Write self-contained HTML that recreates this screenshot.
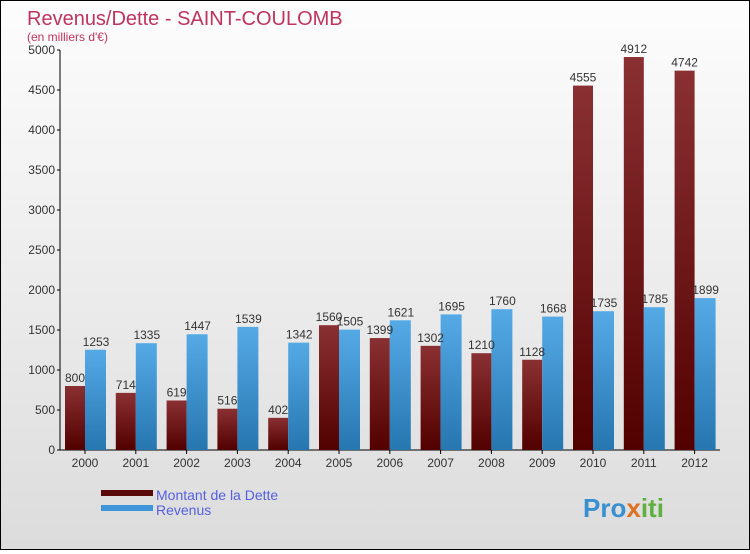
<!DOCTYPE html>
<html><head><meta charset="utf-8"><style>
body{margin:0;width:750px;height:550px;overflow:hidden}
#wrap{position:relative;width:748px;height:548px;border:1px solid #000;background:linear-gradient(#fdfdfd,#dcdcdc);font-family:"Liberation Sans",sans-serif}
text{font-family:"Liberation Sans",sans-serif}
</style></head><body>
<div id="wrap">
<svg id="chart" width="748" height="548">
<defs>
<linearGradient id="gd" x1="0" y1="0" x2="0" y2="1"><stop offset="0" stop-color="#8a3033"/><stop offset="1" stop-color="#520000"/></linearGradient>
<linearGradient id="gr" x1="0" y1="0" x2="0" y2="1"><stop offset="0" stop-color="#55aae6"/><stop offset="1" stop-color="#2676b0"/></linearGradient>
</defs>
<text x="26" y="24" font-size="20" fill="#c0335e">Revenus/Dette - SAINT-COULOMB</text>
<text x="26" y="40" font-size="12" fill="#c0335e">(en milliers d'€)</text>
<g id="axes"></g><g id="bars"></g>
<rect x="100" y="489" width="52" height="6" fill="#5a0a0a"/>
<rect x="100" y="504" width="52" height="6" fill="#3d94d8"/>
<text x="155" y="499" font-size="14" fill="#5560e0">Montant de la Dette</text>
<text x="155" y="514" font-size="14" fill="#5560e0">Revenus</text>
<text x="582" y="516" font-size="26" font-weight="bold" fill="#3a8fd0">Pro<tspan fill="#e07020">x</tspan><tspan fill="#60b040">iti</tspan></text>
</svg></div>
<script>
const years=["2000","2001","2002","2003","2004","2005","2006","2007","2008","2009","2010","2011","2012"];
const dette=[800,714,619,516,402,1560,1399,1302,1210,1128,4555,4912,4742];
const revenus=[1253,1335,1447,1539,1342,1505,1621,1695,1760,1668,1735,1785,1899];
const yTicks=[0,500,1000,1500,2000,2500,3000,3500,4000,4500,5000];
const NS="http://www.w3.org/2000/svg";
const y=v=>449-v*0.08;
const x=i=>84+i*50.8;
function mk(t,a,p){const e=document.createElementNS(NS,t);for(const k in a)e.setAttribute(k,a[k]);p.appendChild(e);return e;}
const ax=document.getElementById('axes'),bg=document.getElementById('bars');
const yl=mk('line',{x1:59,y1:49,x2:59,y2:449,stroke:'#000'},ax);


const xl=mk('line',{x1:59,y1:449,x2:719,y2:449,stroke:'#000'},ax);


yTicks.forEach(v=>{
 mk('line',{x1:56,y1:y(v),x2:59,y2:y(v),stroke:'#000'},ax);
 const t=mk('text',{x:54,y:y(v)+4,'font-size':12,'text-anchor':'end',fill:'#333'},ax);t.textContent=v;
 
 
});
years.forEach((yr,i)=>{
 const cx=x(i);
 mk('line',{x1:cx,y1:449,x2:cx,y2:453,stroke:'#000'},ax);
 const t=mk('text',{x:cx,y:466,'font-size':12,'text-anchor':'middle',fill:'#333'},ax);t.textContent=yr;
 
 
 const b1=mk('rect',{x:cx-20,y:y(dette[i]),width:20,height:449-y(dette[i]),fill:'url(#gd)'},bg);
 
 
 const b2=mk('rect',{x:cx,y:y(revenus[i]),width:21,height:449-y(revenus[i]),fill:'url(#gr)'},bg);
 
 
 const l1=mk('text',{x:cx-10,y:y(dette[i])-4,'font-size':12,'text-anchor':'middle',fill:'#333'},bg);l1.textContent=dette[i];
 
 
 const l2=mk('text',{x:cx+11,y:y(revenus[i])-4,'font-size':12,'text-anchor':'middle',fill:'#333'},bg);l2.textContent=revenus[i];
 
 
});
</script>
</body></html>
